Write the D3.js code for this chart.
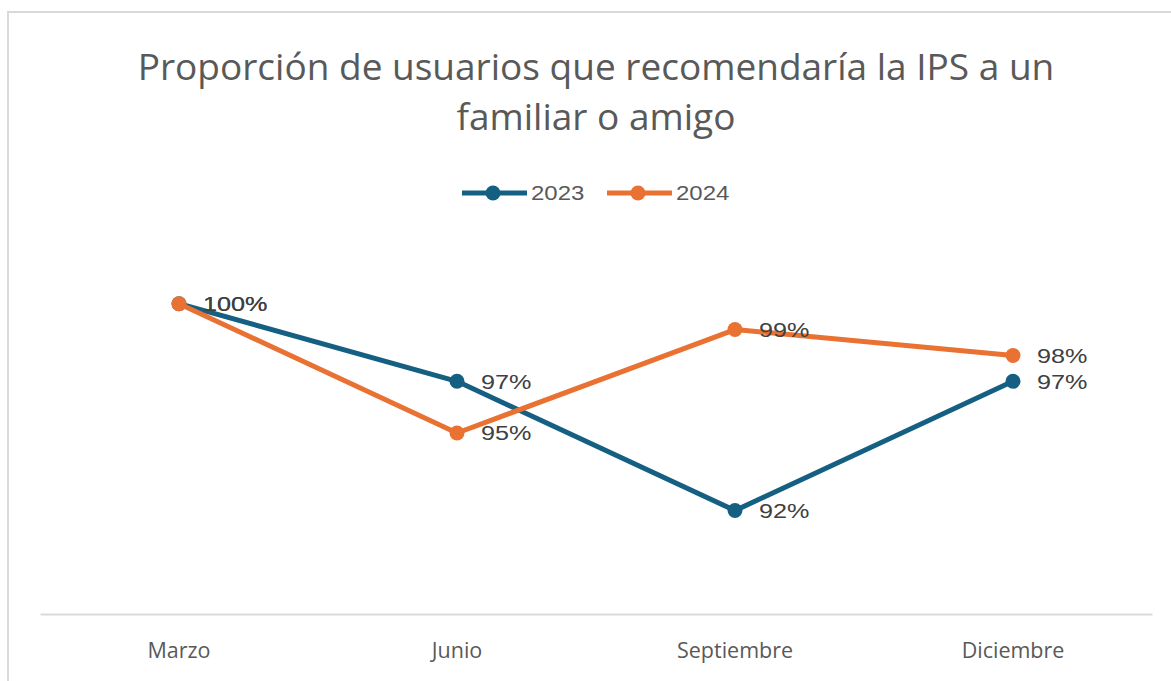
<!DOCTYPE html>
<html><head><meta charset="utf-8">
<script src="https://cdn.jsdelivr.net/npm/d3@7"></script>
<style>html,body{margin:0;padding:0;background:#fff;}</style>
</head><body>
<svg id="chart" width="1171" height="681"></svg>
<script>
const categories = ["Marzo", "Junio", "Septiembre", "Diciembre"];
const seriesNames = ["2023", "2024"];
const values2023 = [1.00, 0.97, 0.92, 0.97];
const values2024 = [1.00, 0.95, 0.99, 0.98];
const seriesColors = ["#156082", "#E97132"];
const titleLines = ["Proporción de usuarios que recomendaría la IPS a un", "familiar o amigo"];

const svg = d3.select("#chart");
// frame
svg.append("rect").attr("x", 8).attr("y", 12).attr("width", 1175).attr("height", 690)
  .attr("fill", "#fff").attr("stroke", "#d9d9d9").attr("stroke-width", 2);

const x = d3.scaleBand().domain(categories).range([40, 1152]);
const y = d3.scaleLinear().domain([0.88, 1.02]).range([614, 252]);

// title
svg.append("g").selectAll("text").data(titleLines).join("text")
  .attr("x", 596).attr("y", (d, i) => 80 + i * 50)
  .attr("text-anchor", "middle").attr("fill", "#595959")
  .style("font-family", "'Open Sans', sans-serif").style("font-size", "37px")
  .text(d => d);

// axis
const xAxis = svg.append("g").attr("transform", "translate(0,614)")
  .call(d3.axisBottom(x).tickSize(0).tickPadding(29));
xAxis.select(".domain").attr("stroke", "#d9d9d9").attr("stroke-width", 2);
xAxis.selectAll("text").attr("fill", "#595959")
  .style("font-family", "'Open Sans', sans-serif").style("font-size", "21.5px");

const series = [values2023, values2024];
const cx = (d, i) => x(categories[i]) + x.bandwidth() / 2;
const line = d3.line().x(cx).y(d => y(d));

series.forEach((vals, s) => {
  const g = svg.append("g");
  g.append("path").datum(vals).attr("d", line).attr("fill", "none")
    .attr("stroke", seriesColors[s]).attr("stroke-width", 5).attr("stroke-linejoin", "round");
  g.selectAll("circle").data(vals).join("circle")
    .attr("cx", cx).attr("cy", d => y(d))
    .attr("r", 7.5).attr("fill", seriesColors[s]);
});
series.forEach((vals, s) => {
  svg.append("g").selectAll("text").data(vals).join("text")
    .attr("transform", (d, i) => `translate(${cx(d, i) + 24},${y(d)}) scale(1.2,1)`)
    .attr("dy", "0.35em")
    .attr("fill", "#404040")
    .style("font-family", "'Liberation Sans', Arial, sans-serif").style("font-size", "21px")
    .text(d => d3.format(".0%")(d));
});

// legend
const legendX = [462, 607];
seriesNames.forEach((name, s) => {
  const g = svg.append("g").attr("transform", `translate(${legendX[s]},193)`);
  g.append("line").attr("x1", 0).attr("x2", 65).attr("stroke", seriesColors[s]).attr("stroke-width", 5);
  g.append("circle").attr("cx", 31).attr("r", 7.5).attr("fill", seriesColors[s]);
  g.append("text").attr("transform", "translate(69,0) scale(1.2,1)").attr("dy", "0.35em").attr("fill", "#595959")
    .style("font-family", "'Liberation Sans', Arial, sans-serif").style("font-size", "20px").text(name);
});
</script>
</body></html>
